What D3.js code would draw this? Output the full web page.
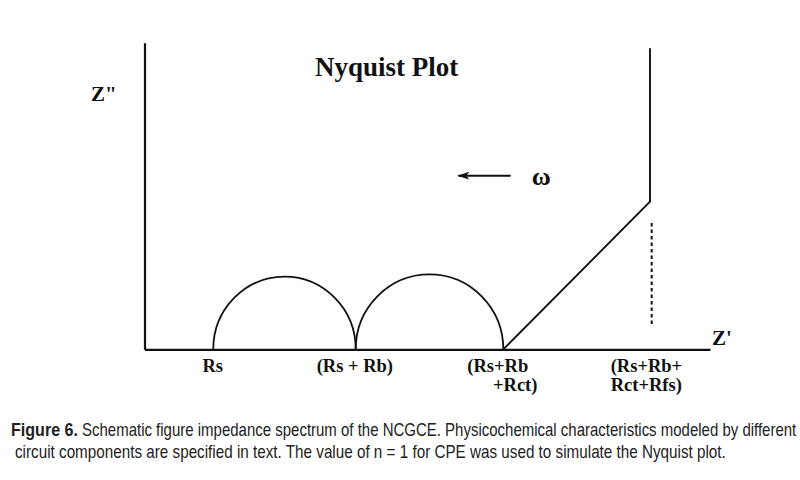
<!DOCTYPE html>
<html>
<head>
<meta charset="utf-8">
<script src="https://cdn.jsdelivr.net/npm/d3@7"></script>
<style>
  html, body { margin: 0; padding: 0; background: #fff; }
  svg { display: block; }
</style>
</head>
<body>
<svg id="chart" width="800" height="480"></svg>
<script>
// ---- data (Z' and Z'' in arbitrary schematic units) ----
const tickLabels = [["Rs"], ["(Rs + Rb)"], ["(Rs+Rb", "+Rct)"], ["(Rs+Rb+", "Rct+Rfs)"]];
const tickValues = [0.973, 2.988, 5.076, 7.151];
const arcStart = [0.973, 2.988];
const arcEnd = [2.988, 5.076];
const arcHeight = [1.028, 1.062];
const tailReal = [5.076, 7.151, 7.151];
const tailImag = [0, 2.089, 4.261];
const dashReal = [7.175, 7.175];
const dashImag = [0.358, 1.798];
const arrowReal = [5.18, 4.44];
const arrowImag = [2.457, 2.457];
const omegaPos = [5.48, 2.33];
const captionBold = "Figure 6.";
const captionLine1 = "Schematic figure impedance spectrum of the NCGCE. Physicochemical characteristics modeled by different";
const captionLine2 = "circuit components are specified in text. The value of n = 1 for CPE was used to simulate the Nyquist plot.";

const svg = d3.select("#chart");
const x = d3.scaleLinear().domain([0, 8]).range([144.5, 710]);
const y = d3.scaleLinear().domain([0, 4.34]).range([349.3, 42.7]);
const ink = "#111";

// axes
const gx = svg.append("g").attr("transform", `translate(0,${y(0)})`)
  .call(d3.axisBottom(x).tickValues([]).tickSizeOuter(0));
const gy = svg.append("g").attr("transform", `translate(${x(0)},0)`)
  .call(d3.axisLeft(y).tickValues([]).tickSizeOuter(0));
[gx, gy].forEach(g => g.select(".domain").attr("stroke", ink).attr("stroke-width", 2.2));

// semicircles
arcStart.forEach((s, i) => {
  const x0 = x(s), x1 = x(arcEnd[i]);
  const rx = (x1 - x0) / 2, ry = y(0) - y(arcHeight[i]);
  svg.append("path")
    .attr("d", `M${x0},${y(0)} A${rx},${ry} 0 0 1 ${x1},${y(0)}`)
    .attr("fill", "none").attr("stroke", ink).attr("stroke-width", 1.8);
});

// diffusion tail
const line = d3.line().x(d => x(d[0])).y(d => y(d[1]));
svg.append("path")
  .attr("d", line(tailReal.map((v, i) => [v, tailImag[i]])))
  .attr("fill", "none").attr("stroke", ink).attr("stroke-width", 1.9)
  .attr("stroke-linejoin", "miter");

// dashed vertical
svg.append("path")
  .attr("d", line(dashReal.map((v, i) => [v, dashImag[i]])))
  .attr("fill", "none").attr("stroke", ink).attr("stroke-width", 2)
  .attr("stroke-dasharray", "3.5,3");

// arrow
svg.append("defs").append("marker")
  .attr("id", "ah").attr("viewBox", "0 0 12 8").attr("refX", 11).attr("refY", 4)
  .attr("markerWidth", 12).attr("markerHeight", 8).attr("markerUnits", "userSpaceOnUse")
  .attr("orient", "auto")
  .append("path").attr("d", "M0,0 L12,4 L0,8 L3,4 Z").attr("fill", ink);
svg.append("line")
  .attr("x1", x(arrowReal[0])).attr("y1", y(arrowImag[0]))
  .attr("x2", x(arrowReal[1])).attr("y2", y(arrowImag[1]))
  .attr("stroke", ink).attr("stroke-width", 2)
  .attr("marker-end", "url(#ah)");
svg.append("text").attr("x", x(omegaPos[0])).attr("y", y(omegaPos[1]))
  .attr("font-family", "Liberation Serif, Times New Roman, serif")
  .attr("font-weight", "bold")
  .attr("font-size", 26).attr("fill", ink).text("ω");

// title and axis names
const serif = "Liberation Serif, Times New Roman, serif";
svg.append("text").attr("x", 386.7).attr("y", 75.7).attr("text-anchor", "middle")
  .attr("font-family", serif).attr("font-weight", "bold").attr("font-size", 27)
  .attr("fill", ink).text("Nyquist Plot");
svg.append("text").attr("x", 91).attr("y", 101)
  .attr("font-family", serif).attr("font-weight", "bold").attr("font-size", 21)
  .attr("fill", ink).text("Z\"");
svg.append("text").attr("x", 712).attr("y", 345)
  .attr("font-family", serif).attr("font-weight", "bold").attr("font-size", 21)
  .attr("fill", ink).text("Z'");

// tick labels
const lineOffsets = [[-10.8], [-39], [-36, -10.3], [-39.3, -39.3]];
tickLabels.forEach((lines, i) => {
  lines.forEach((t, j) => {
    svg.append("text")
      .attr("x", x(tickValues[i]) + lineOffsets[i][j])
      .attr("y", 372.3 + j * 18.6)
      .attr("font-family", serif).attr("font-weight", "bold").attr("font-size", 18.5)
      .attr("fill", ink).text(t);
  });
});

// caption: condensed by horizontal scaling to the reference widths
const sans = "Liberation Sans, Arial, Helvetica, sans-serif";
function captionText(str, x0, y0, width, bold) {
  const g = svg.append("g");
  const t = g.append("text").attr("x", 0).attr("y", 0)
    .attr("font-family", sans).attr("font-size", 17.5)
    .attr("font-weight", bold ? "bold" : "normal")
    .attr("fill", "#222").text(str);
  const natural = t.node().getComputedTextLength();
  g.attr("transform", `translate(${x0},${y0}) scale(${width / natural},1)`);
}
captionText(captionBold, 11, 436, 67, true);
captionText(captionLine1, 82, 436, 715, false);
captionText(captionLine2, 15, 458, 711, false);
</script>
</body>
</html>
